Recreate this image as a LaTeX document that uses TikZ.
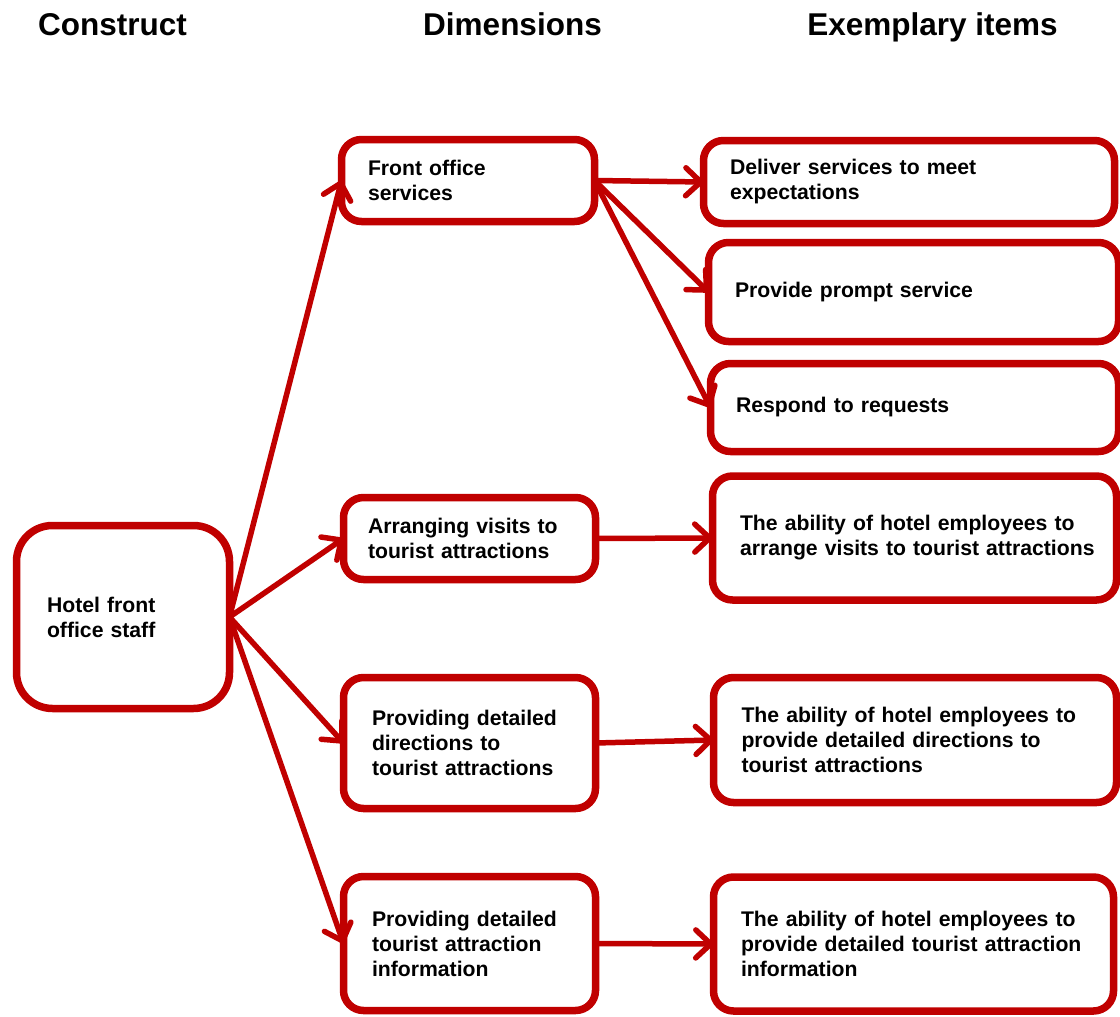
\documentclass[tikz,border=0pt]{standalone}
\usepackage{fontspec}
\setmainfont{Liberation Sans}
\usetikzlibrary{arrows.meta}
\definecolor{frame}{HTML}{C00000}

\begin{document}
\begin{tikzpicture}[x=1pt,y=-1pt,
  box/.style={draw=frame, line width=7.5pt, rounded corners=20pt, fill=white,
    align=left, inner sep=0pt, outer sep=0pt,
    font=\fontsize{21.2}{25}\selectfont\bfseries},
  head/.style={anchor=base, font=\fontsize{31.5}{36}\selectfont\bfseries},
  link/.style={draw=frame, line width=5.5pt,
    -{Straight Barb[length=15pt,width=28pt,round]}}
]
\useasboundingbox (0,0) rectangle (1120,1017);
\clip (0,0) rectangle (1120,1017);

% column headings
\node[head] (hc) at (112.5,35) {Construct};
\node[head] (hd) at (512.5,35) {Dimensions};
\node[head] (he) at (932.5,35) {Exemplary items};

% construct
\node[box, rounded corners=36pt, minimum width=213pt, minimum height=183pt,
  text width=152pt] (hotel) at (123,617) {Hotel front\\office staff};

% dimensions
\node[box, minimum width=253pt, minimum height=82pt, text width=200pt]
  (front) at (468,180.5) {Front office\\services};
\node[box, minimum width=252pt, minimum height=82pt, text width=203pt]
  (visits) at (469.5,538.5) {\mbox{Arranging visits to}\\\mbox{tourist attractions}};
\node[box, minimum width=252pt, minimum height=131pt, text width=195pt]
  (directions) at (469.5,743) {\mbox{Providing detailed}\\directions to\\\mbox{tourist attractions}};
\node[box, minimum width=252pt, minimum height=134pt, text width=195pt]
  (info) at (469.5,943.5) {\mbox{Providing detailed}\\\mbox{tourist attraction}\\information};

% exemplary items
\node[box, minimum width=411pt, minimum height=83pt, text width=358pt]
  (deliver) at (909,182) {\mbox{Deliver services to meet}\\expectations};
\node[box, minimum width=410pt, minimum height=99pt, text width=357pt]
  (prompt) at (913.5,292) {Provide prompt service};
\node[box, minimum width=408pt, minimum height=88pt, text width=357pt]
  (respond) at (914.5,407.5) {Respond to requests};
\node[box, minimum width=404pt, minimum height=124pt, text width=349pt]
  (abvisits) at (914.5,538) {\mbox{The ability of hotel employees to}\\\mbox{arrange visits to tourist attractions}};
\node[box, minimum width=403pt, minimum height=125pt, text width=347pt]
  (abdirections) at (915,740) {\mbox{The ability of hotel employees to}\\\mbox{provide detailed directions to}\\tourist attractions};
\node[box, minimum width=400pt, minimum height=134pt, text width=345pt]
  (abinfo) at (913.5,944) {\mbox{The ability of hotel employees to}\\\mbox{provide detailed tourist attraction}\\information};

% connectors
\draw[link] (hotel.east) -- (front.west);
\draw[link] (hotel.east) -- (visits.west);
\draw[link] (hotel.east) -- (directions.west);
\draw[link] (hotel.east) -- (info.west);

\draw[link] (front.east) -- (deliver.west);
\draw[link] (front.east) -- (prompt.west);
\draw[link] (front.east) -- (respond.west);

\draw[link] (visits.east) -- (abvisits.west);
\draw[link] (directions.east) -- (abdirections.west);
\draw[link] (info.east) -- (abinfo.west);
\end{tikzpicture}
\end{document}
